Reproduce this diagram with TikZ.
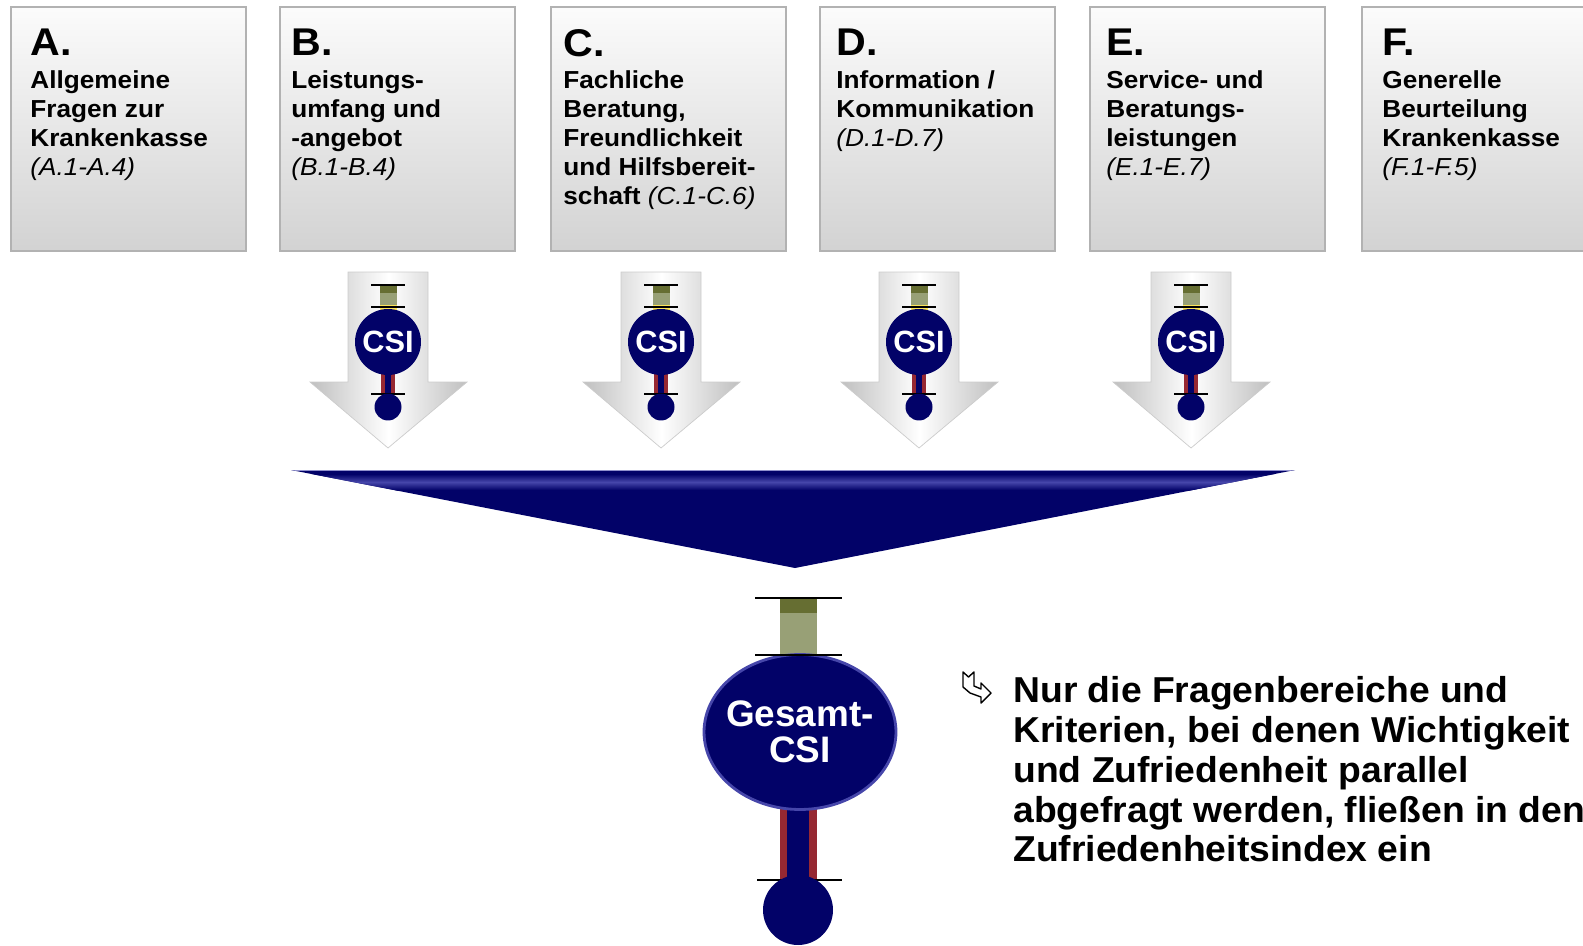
\documentclass[tikz,border=0pt]{standalone}
\usepackage{fontspec}
\setmainfont{Liberation Sans}
\usetikzlibrary{shapes.geometric}
\definecolor{csinavy}{RGB}{2,2,104}
\definecolor{csirim}{RGB}{70,70,170}
\definecolor{olivedark}{RGB}{102,110,50}
\definecolor{olivelight}{RGB}{152,160,118}
\definecolor{stemred}{RGB}{150,40,50}
\definecolor{tubeyellow}{RGB}{255,230,90}

\begin{document}
\begin{tikzpicture}[x=0.02cm, y=-0.02cm,
  catbox/.style={rectangle, draw=gray!60, line width=1.3pt, top color=gray!3,
  bottom color=gray!35, minimum width=4.70cm, minimum height=4.88cm, anchor=north west},
  cattext/.style={anchor=north west, inner sep=0pt, align=left, xscale=1.065,
  font=\bfseries\fontsize{14}{16.5}\selectfont},
  csiball/.style={circle, fill=csinavy, text=white, inner sep=0pt, minimum size=1.32cm,
  font=\bfseries\fontsize{17.5}{18}\selectfont},
  bulb/.style={circle, fill=csinavy, inner sep=0pt},
  tick/.style={black, line width=1pt},
  arrowbody/.style={left color=gray!50, right color=gray!50, middle color=white,
  draw=gray!40, line width=0.4pt}]
  \clip (0,0) rectangle (1583,946);

  % Fragenbereiche A-F
  \node[catbox] (A) at (10,6) {};
  \node[catbox] (B) at (279,6) {};
  \node[catbox] (C) at (550,6) {};
  \node[catbox] (D) at (819,6) {};
  \node[catbox] (E) at (1089,6) {};
  \node[catbox] (F) at (1361,6) {};
  \newcommand{\lett}[1]{{\fontsize{22}{22}\selectfont #1}\\[2pt]}
  \newcommand{\rng}[1]{{\mdseries\itshape #1}}
  \node[cattext] (tA) at (30,29) {\lett{A.}Allgemeine\\Fragen zur\\Krankenkasse\\\rng{(A.1-A.4)}};
  \node[cattext] (tB) at (291,29) {\lett{B.}Leistungs-\\umfang und\\-angebot\\\rng{(B.1-B.4)}};
  \node[cattext] (tC) at (563,29) {\lett{C.}Fachliche\\Beratung,\\Freundlichkeit\\und Hilfsbereit-\\schaft \rng{(C.1-C.6)}};
  \node[cattext] (tD) at (836,29) {\lett{D.}Information /\\Kommunikation\\\rng{(D.1-D.7)}};
  \node[cattext] (tE) at (1106,29) {\lett{E.}Service- und\\Beratungs-\\leistungen\\\rng{(E.1-E.7)}};
  \node[cattext] (tF) at (1382,29) {\lett{F.}Generelle\\Beurteilung\\Krankenkasse\\\rng{(F.1-F.5)}};

  % Pfeile mit CSI-Thermometer
  \foreach \cx/\n in {388/b,661/c,919/d,1191/e} {
    \path[arrowbody] (\cx-40,272) -- (\cx+40,272) -- (\cx+40,382) -- (\cx+79,382)
      -- (\cx,448) -- (\cx-78,382) -- (\cx-40,382) -- cycle;
    \fill[olivedark] (\cx-8.5,285) rectangle (\cx+8.5,293);
    \fill[olivelight] (\cx-8.5,293) rectangle (\cx+8.5,305);
    \fill[tubeyellow] (\cx-8.5,305) rectangle (\cx+8.5,311);
    \fill[stemred] (\cx-7,368) rectangle (\cx+7,394);
    \fill[csinavy] (\cx-3,368) rectangle (\cx+3,396);
    \node[csiball] (csi\n) at (\cx,342) {CSI};
    \draw[tick] (\cx-17,285) -- (\cx+17,285);
    \draw[tick] (\cx-17,307) -- (\cx+17,307);
    \draw[tick] (\cx-17,394) -- (\cx+17,394);
    \node[bulb, minimum size=0.54cm] (bulb\n) at (\cx,407) {};
  }

  % Sammeltrichter
  \fill[csinavy] (291,470) -- (1295,470) -- (795,568) -- cycle;
  \begin{scope}
    \clip (291,470) -- (1295,470) -- (795,568) -- cycle;
    \shade[top color=csinavy, bottom color=csinavy, middle color=csirim] (280,474) rectangle (1300,490);
    \draw[csirim!60!white, line width=0.6pt] (291,470) -- (1295,470);
  \end{scope}

  % Gesamt-CSI
  \fill[olivedark] (780,598) rectangle (817,613);
  \fill[olivelight] (780,613) rectangle (817,655);
  \fill[stemred] (780,800) rectangle (817,885);
  \fill[csinavy] (787,800) rectangle (809,885);
  \node[ellipse, fill=csinavy, draw=csirim, line width=1.6pt, inner sep=0pt,
    minimum width=3.84cm, minimum height=3.1cm] (total) at (800,732) {};
  \node[text=white, align=center, font=\bfseries\fontsize{21}{20.5}\selectfont]
    (totallabel) at (total.center) {Gesamt-\\CSI};
  \draw[tick] (755,598) -- (842,598);
  \draw[tick] (755,655) -- (842,655);
  \draw[tick] (757,880) -- (842,880);
  \node[bulb, minimum size=1.4cm] (bulbtotal) at (798,910) {};

  % Hinweis
  \draw[line width=0.8pt, line join=round]
    (963,672) -- (968.5,677) -- (974,672) -- (974,686) -- (981,689) -- (981,683)
    -- (991,693) -- (981,703) -- (981,697) -- (970,693) -- (963,687) -- cycle;
  \node[anchor=north west, inner sep=0pt, align=left, xscale=1.035,
    font=\bfseries\fontsize{20.5}{22.7}\selectfont] (note) at (1013,676)
    {Nur die Fragenbereiche und\\Kriterien, bei denen Wichtigkeit\\und Zufriedenheit parallel\\abgefragt werden, fließen in den\\Zufriedenheitsindex ein};
\end{tikzpicture}
\end{document}
